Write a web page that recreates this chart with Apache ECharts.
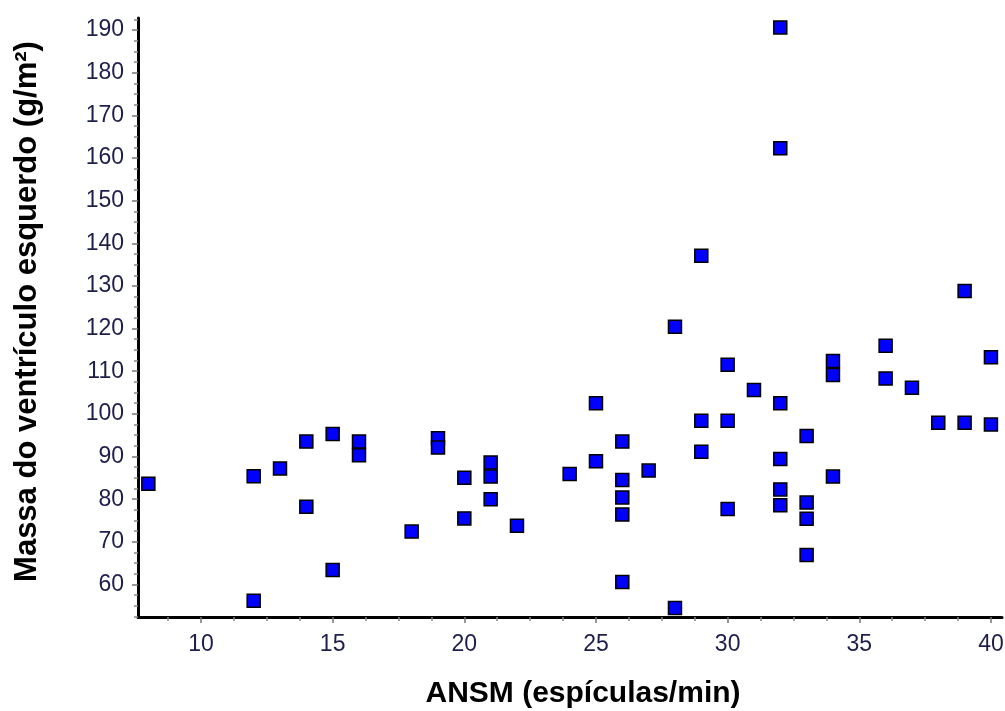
<!DOCTYPE html>
<html>
<head>
<meta charset="utf-8">
<script src="https://cdn.jsdelivr.net/npm/echarts@6/dist/echarts.min.js"></script>
<style>
html,body{margin:0;padding:0;background:#fff;}
#chart{width:1005px;height:711px;}
</style>
</head>
<body>
<div id="chart"></div>
<script>
// ANSM (espículas/min)
var xValues = [8, 12, 12, 13, 14, 14, 15, 15, 16, 16, 18, 19, 19, 20, 20, 21, 21, 21, 22, 24,
  25, 25, 26, 26, 26, 26, 26, 27, 28, 28, 29, 29, 29, 30, 30, 30, 31,
  32, 32, 32, 32, 32, 32, 33, 33, 33, 33, 34, 34, 34, 36, 36, 37, 38, 39, 39, 40, 40];
// Massa do ventrículo esquerdo (g/m²)
var yValues = [83.6, 85.4, 56.2, 87.2, 93.5, 78.2, 95.3, 63.4, 93.5, 90.3, 72.4, 94.3, 92.1, 85.0, 75.5, 88.6, 85.3, 80.0, 73.8, 85.9,
  102.5, 88.9, 93.5, 84.5, 80.4, 76.4, 60.6, 86.7, 120.4, 54.5, 137.1, 98.4, 91.1, 111.5, 98.4, 77.7, 105.6,
  190.6, 162.3, 102.5, 89.4, 82.3, 78.6, 94.8, 79.2, 75.4, 66.9, 112.4, 109.1, 85.3, 116.0, 108.3, 106.1, 97.9, 128.8, 97.9, 113.3, 97.5];

var xTicks = [10, 15, 20, 25, 30, 35, 40];
var xMinorTicks = [8.75, 11.25, 12.5, 13.75, 16.25, 17.5, 18.75, 21.25, 22.5, 23.75, 26.25, 27.5, 28.75, 31.25, 32.5, 33.75, 36.25, 37.5, 38.75];
var yTicks = [60, 70, 80, 90, 100, 110, 120, 130, 140, 150, 160, 170, 180, 190];
var yMinorTicks = [52.5, 55, 57.5, 62.5, 65, 67.5, 72.5, 75, 77.5, 82.5, 85, 87.5, 92.5, 95, 97.5, 102.5, 105, 107.5,
  112.5, 115, 117.5, 122.5, 125, 127.5, 132.5, 135, 137.5, 142.5, 145, 147.5, 152.5, 155, 157.5, 162.5, 165, 167.5,
  172.5, 175, 177.5, 182.5, 185, 187.5, 192.5];

var xTitle = 'ANSM (espículas/min)';
var yTitle = 'Massa do ventrículo esquerdo (g/m²)';

var points = xValues.map(function (x, i) { return [x, yValues[i]]; });

var X_MIN = 7.607, X_MAX = 40.42, Y_MIN = 52.38, Y_MAX = 192.81;
var font = 'Liberation Sans, Arial, sans-serif';
var labelColor = '#1e1e4c';

var chart = echarts.init(document.getElementById('chart'), null, {renderer: 'canvas'});
chart.setOption({
  animation: false,
  backgroundColor: '#ffffff',
  grid: {left: 138, right: 3, top: 18, bottom: 94, containLabel: false, outerBoundsMode: 'none'},
  xAxis: [{
    type: 'value', min: X_MIN, max: X_MAX, position: 'bottom',
    name: xTitle, nameLocation: 'middle', nameGap: 62,
    nameTextStyle: {fontFamily: font, fontSize: 30, fontWeight: 'bold', color: '#000', padding: [0, 0, 0, 26]},
    axisLine: {show: true, onZero: false, lineStyle: {color: '#000', width: 3}},
    axisTick: {show: true, length: 6, customValues: xTicks, lineStyle: {color: '#777', width: 1.5}},
    axisLabel: {show: true, customValues: xTicks, margin: 16, fontFamily: font, fontSize: 23, color: labelColor},
    splitLine: {show: false}
  }, {
    type: 'value', min: X_MIN, max: X_MAX, position: 'bottom',
    axisLine: {show: false},
    axisTick: {show: true, length: 4, customValues: xMinorTicks, lineStyle: {color: '#888', width: 1.5}},
    axisLabel: {show: false},
    splitLine: {show: false}
  }],
  yAxis: [{
    type: 'value', min: Y_MIN, max: Y_MAX, position: 'left',
    name: yTitle, nameLocation: 'middle', nameGap: 95, nameRotate: 90,
    nameTextStyle: {fontFamily: font, fontSize: 31, fontWeight: 'bold', color: '#000', padding: [0, 0, 0, 12]},
    axisLine: {show: true, onZero: false, lineStyle: {color: '#000', width: 3}},
    axisTick: {show: true, length: 6, customValues: yTicks, lineStyle: {color: '#777', width: 1.5}},
    axisLabel: {show: true, customValues: yTicks, margin: 14, fontFamily: font, fontSize: 23, color: labelColor},
    splitLine: {show: false}
  }, {
    type: 'value', min: Y_MIN, max: Y_MAX, position: 'left',
    axisLine: {show: false},
    axisTick: {show: true, length: 4, customValues: yMinorTicks, lineStyle: {color: '#888', width: 1.5}},
    axisLabel: {show: false},
    splitLine: {show: false}
  }],
  series: [{
    type: 'scatter',
    xAxisIndex: 0, yAxisIndex: 0,
    data: points,
    symbol: 'rect',
    symbolSize: 13,
    clip: false,
    itemStyle: {color: '#0000ff', borderColor: '#000000', borderWidth: 1.5, opacity: 1}
  }]
});
</script>
</body>
</html>
